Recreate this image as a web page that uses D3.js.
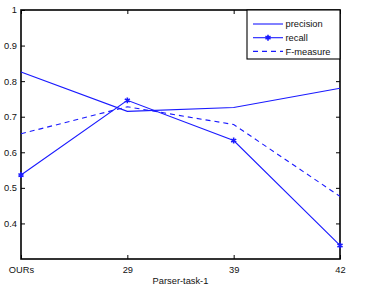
<!DOCTYPE html>
<html>
<head>
<meta charset="utf-8">
<script src="https://cdn.jsdelivr.net/npm/d3@7"></script>
<style>
  body { margin: 0; background: #fff; }
  text { font-family: "Liberation Sans", Arial, sans-serif; fill: #111; }
</style>
</head>
<body>
<div id="chart"></div>
<script>
const categories = ["OURs", "29", "39", "42"];
const precision = [0.826, 0.715, 0.726, 0.780];
const recall = [0.536, 0.746, 0.633, 0.338];
const fMeasure = [0.652, 0.728, 0.678, 0.476];
const yTicks = [0.4, 0.5, 0.6, 0.7, 0.8, 0.9, 1];
const seriesNames = ["precision", "recall", "F-measure"];

const W = 369, H = 295;
const margin = {top: 10, right: 29, bottom: 36, left: 21};
const width = W - margin.left - margin.right;
const height = H - margin.top - margin.bottom;

const svg = d3.select("#chart").append("svg")
    .attr("width", W)
    .attr("height", H);

const chart = svg.append("g")
    .attr("transform", `translate(${margin.left},${margin.top})`);

const x = d3.scalePoint().domain(categories).range([0, width]);
const y = d3.scaleLinear().domain([0.3, 1]).range([height, 0]);

// axes with inward ticks (matlab style box)
const xAxis = d3.axisBottom(x).tickSize(-4).tickSizeOuter(0).tickPadding(7);
const yAxis = d3.axisLeft(y).tickValues(yTicks).tickSize(-4).tickSizeOuter(0).tickPadding(4)
    .tickFormat(d => d === 1 ? "1" : d3.format(".1f")(d));

chart.append("g")
    .attr("transform", `translate(0,${height})`)
    .call(xAxis);
chart.append("g").call(yAxis);

// top and right ticks
chart.append("g").call(d3.axisTop(x).tickSize(-4).tickSizeOuter(0).tickFormat(""));
chart.append("g").attr("transform", `translate(${width},0)`)
    .call(d3.axisRight(y).tickValues(yTicks).tickSize(-4).tickSizeOuter(0).tickFormat(""));

chart.selectAll(".domain").remove();
chart.selectAll(".tick line").attr("stroke", "#000");
chart.selectAll(".tick text").attr("font-size", 9.3).attr("fill", "#111")
    .style("font-family", "'Liberation Sans', Arial, sans-serif");

chart.append("rect")
    .attr("width", width)
    .attr("height", height)
    .attr("fill", "none")
    .attr("stroke", "#000")
    .attr("stroke-width", 1.6);

const line = d3.line()
    .x((d, i) => x(categories[i]))
    .y(d => y(d));

const blue = "#1a1aff";

chart.append("path").datum(precision)
    .attr("d", line).attr("fill", "none").attr("stroke", blue).attr("stroke-width", 1.1);
chart.append("path").datum(recall)
    .attr("d", line).attr("fill", "none").attr("stroke", blue).attr("stroke-width", 1.1);
chart.append("path").datum(fMeasure)
    .attr("d", line).attr("fill", "none").attr("stroke", blue).attr("stroke-width", 1.1)
    .attr("stroke-dasharray", "5,4");

// star markers on recall
const star = d3.symbol().type(d3.symbolAsterisk).size(24);
chart.selectAll(".marker")
    .data(recall)
    .join("path")
    .attr("class", "marker")
    .attr("transform", (d, i) => `translate(${x(categories[i])},${y(d)})`)
    .attr("d", star)
    .attr("fill", "none")
    .attr("stroke", blue)
    .attr("stroke-width", 1.6);

// x axis title
svg.append("text")
    .attr("x", margin.left + width / 2)
    .attr("y", 284)
    .attr("text-anchor", "middle")
    .attr("font-size", 9.3)
    .text("Parser-task-1");

// legend
const lg = chart.append("g").attr("transform", `translate(${width - 93},0)`);
lg.append("rect")
    .attr("width", 93)
    .attr("height", 49)
    .attr("fill", "#fff")
    .attr("stroke", "#000")
    .attr("stroke-width", 1.1);

seriesNames.forEach((name, i) => {
    const yy = 14 + i * 13.7;
    lg.append("line")
        .attr("x1", 6).attr("x2", 36)
        .attr("y1", yy).attr("y2", yy)
        .attr("stroke", blue).attr("stroke-width", 1.1)
        .attr("stroke-dasharray", i === 2 ? "5,4" : null);
    if (i === 1) {
        lg.append("path")
            .attr("transform", `translate(21,${yy})`)
            .attr("d", star)
            .attr("fill", "none").attr("stroke", blue).attr("stroke-width", 1.6);
    }
    lg.append("text")
        .attr("x", 38.5)
        .attr("y", yy)
        .attr("dy", "0.35em")
        .attr("font-size", 9.3)
        .text(name);
});
</script>
</body>
</html>
